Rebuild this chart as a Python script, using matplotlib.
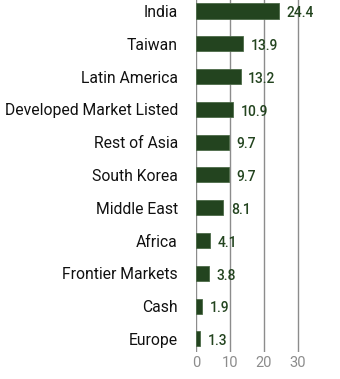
import numpy as np
import matplotlib.pyplot as plt

# regioni e pesi (%)
regioni = ["India", "Taiwan", "Latin America", "Developed Market Listed",
           "Rest of Asia", "South Korea", "Middle East", "Africa",
           "Frontier Markets", "Cash", "Europe"]
pesi = [24.4, 13.9, 13.2, 10.9, 9.7, 9.7, 8.1, 4.1, 3.8, 1.9, 1.3]
tick_x = [0, 10, 20, 30]

verde = "#23441f"
grigio = "#8c8c8c"

plt.rcParams["font.family"] = ["Roboto", "DejaVu Sans"]

fig = plt.figure(figsize=(3.4, 3.79), dpi=100)
ax = fig.add_axes([0.576, 0.0712, 0.42, 0.9288])

y = np.arange(len(regioni))
ax.barh(y, pesi, height=0.46, color=verde, edgecolor="#4d6b48",
        linewidth=0.6, zorder=3)

for yi, v in zip(y, pesi):
    ax.text(v + 2.2, yi + 0.07, f"{v:.1f}", color=verde, fontsize=10,
            fontweight="medium", va="center", ha="left", zorder=4)

ax.set_yticks(y)
ax.set_yticklabels(regioni, fontsize=11.3, color="#111111")
ax.set_ylim(10.4, -0.335)
ax.set_xlim(0, 42)
ax.set_xticks(tick_x)
ax.tick_params(axis="x", colors=grigio, labelsize=10.5, length=0, pad=3)
ax.tick_params(axis="y", length=0, pad=13)

for s in ax.spines.values():
    s.set_visible(False)
ax.grid(axis="x", color=grigio, linewidth=1, zorder=0)
ax.set_axisbelow(True)

fig.savefig("out.png", dpi=100)
